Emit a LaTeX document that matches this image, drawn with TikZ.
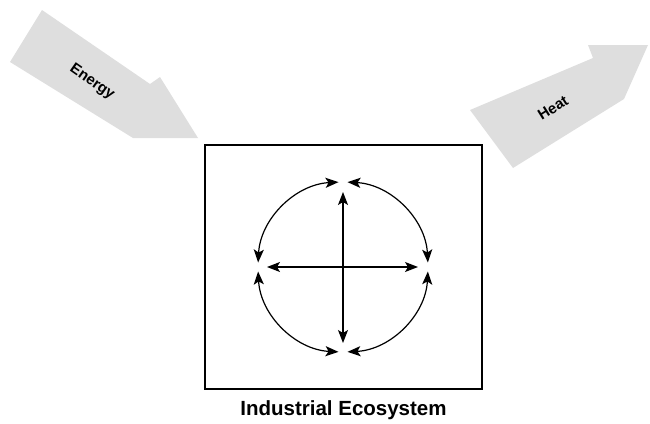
\documentclass[tikz,border=0pt]{standalone}
\usepackage{fontspec}
\setmainfont{Liberation Sans}
\usetikzlibrary{arrows.meta}
\begin{document}
\begin{tikzpicture}[x=1pt,y=-1pt,
  flow/.style={fill=black!13,draw=none},
  flowlabel/.style={font=\bfseries\fontsize{15}{17}\selectfont,inner sep=0pt},
  link/.style={line width=1.2pt,{Stealth[length=13pt,width=10pt,inset=3pt]}-{Stealth[length=13pt,width=10pt,inset=3pt]}},
  frame/.style={line width=1.3pt}]
\useasboundingbox (0,0) rectangle (650,423);
% energy arrow
\path[flow] (42,10) -- (150,84) -- (160,77) -- (198,138) -- (133,138) -- (10,62) -- cycle;
\node[flowlabel,rotate=-35] (energy) at (92,82) {Energy};
% heat arrow
\path[flow] (470,110) -- (593,58) -- (588,45) -- (648,45) -- (624,99) -- (513,168) -- cycle;
\node[flowlabel,rotate=32] (heat) at (553,108) {Heat};
% box
\node[frame,draw,minimum width=277pt,minimum height=244pt,inner sep=0pt] (box) at (343.5,267) {};
\node[font=\bfseries\fontsize{20.5}{24}\selectfont,anchor=base,inner sep=0pt] (label) at (343.5,415) {Industrial Ecosystem};
% circle nodes
\coordinate (c) at (343,267);
\coordinate (t) at (343,182);
\coordinate (b) at (343,352);
\coordinate (l) at (258,267);
\coordinate (r) at (428,267);
\draw[link] (c) ++(93:85) arc[start angle=93,end angle=177,radius=85];
\draw[link] (c) ++(87:85) arc[start angle=87,end angle=3,radius=85];
\draw[link] (c) ++(-93:85) arc[start angle=-93,end angle=-177,radius=85];
\draw[link] (c) ++(-87:85) arc[start angle=-87,end angle=-3,radius=85];
% cross
\draw[link,shorten <=10pt,shorten >=9pt] (t) -- (b);
\draw[link,shorten <=9pt,shorten >=10pt] (l) -- (r);
\end{tikzpicture}
\end{document}
